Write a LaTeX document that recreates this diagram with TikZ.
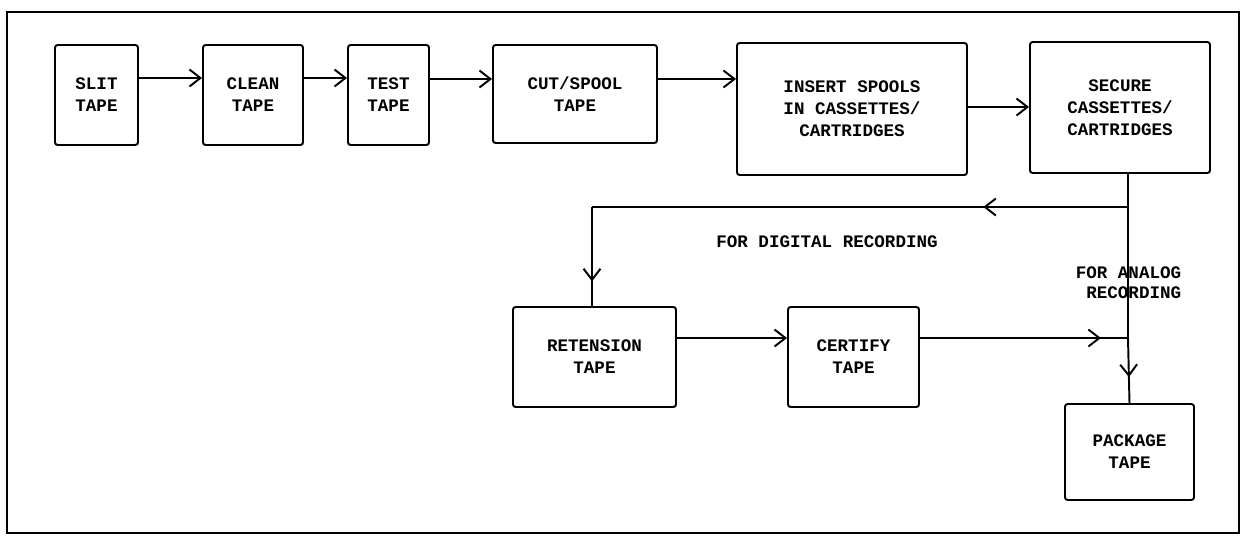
\documentclass[tikz,border=0pt]{standalone}
\usepackage{fontspec}
\setmonofont{Liberation Mono}
\usetikzlibrary{arrows.meta,decorations.markings}

\begin{document}
\begin{tikzpicture}[x=0.02cm, y=-0.02cm, line width=1.1pt,
    font=\ttfamily\bfseries\fontsize{10}{12.5}\selectfont,
    tapetip/.tip={Straight Barb[length=2.2mm,width=3.4mm]},
    box/.style={draw, rounded corners=1.5pt, align=center, inner sep=2pt},
    flow/.style={-tapetip},
    tipat/.style={postaction={decorate},
      decoration={markings, mark=at position #1 with {\arrow{tapetip}}}}]
    \useasboundingbox (0,0) rectangle (1242,535);
    \draw (7,12) rectangle (1239,533);
    % top row
    \node[box, minimum width=1.66cm, minimum height=2cm] (slit) at (96.5,95) {SLIT\\TAPE};
    \node[box, minimum width=2cm, minimum height=2cm] (clean) at (253,95) {CLEAN\\TAPE};
    \node[box, minimum width=1.62cm, minimum height=2cm] (test) at (388.5,95) {TEST\\TAPE};
    \node[box, minimum width=3.28cm, minimum height=1.96cm] (cut) at (575,94) {CUT/SPOOL\\TAPE};
    \node[box, minimum width=4.6cm, minimum height=2.64cm] (insert) at (852,109) {INSERT SPOOLS\\IN CASSETTES/\\CARTRIDGES};
    \node[box, minimum width=3.6cm, minimum height=2.62cm] (secure) at (1120,107.5) {SECURE\\CASSETTES/\\CARTRIDGES};
    % bottom row
    \node[box, minimum width=3.26cm, minimum height=2cm] (retension) at (594.5,357) {RETENSION\\TAPE};
    \node[box, minimum width=2.62cm, minimum height=2cm] (certify) at (853.5,357) {CERTIFY\\TAPE};
    \node[box, minimum width=2.58cm, minimum height=1.92cm] (package) at (1129.5,452) {PACKAGE\\TAPE};
    \coordinate (split) at (1128,207);
    \coordinate (join) at (1128,338);
    \coordinate (bend) at (592,207);
    % connectors
    \draw[flow] (slit.east |- 0,78) -- (clean.west |- 0,78);
    \draw[flow] (clean.east |- 0,78) -- (test.west |- 0,78);
    \draw[flow] (test.east |- 0,79) -- (cut.west |- 0,79);
    \draw[flow] (cut.east |- 0,79) -- (insert.west |- 0,79);
    \draw[flow] (insert.east |- 0,107) -- (secure.west |- 0,107);
    \draw (secure.south -| split) -- (join);
    \draw[tipat=0.6] (join) -- (package.north);
    \draw[tipat=0.27] (split) -- (bend);
    \draw[tipat=0.75] (bend) -- (retension.north -| bend);
    \draw[flow] (retension.east |- join) -- (certify.west |- join);
    \draw[tipat=0.87] (certify.east |- join) -- (join);
    % labels
    \node (digital) at (827,242) {FOR DIGITAL RECORDING};
    \node[align=right, anchor=east, font=\ttfamily\bfseries\fontsize{10}{11.5}\selectfont] (analog) at (1188,283) {FOR ANALOG\\RECORDING};
\end{tikzpicture}
\end{document}
